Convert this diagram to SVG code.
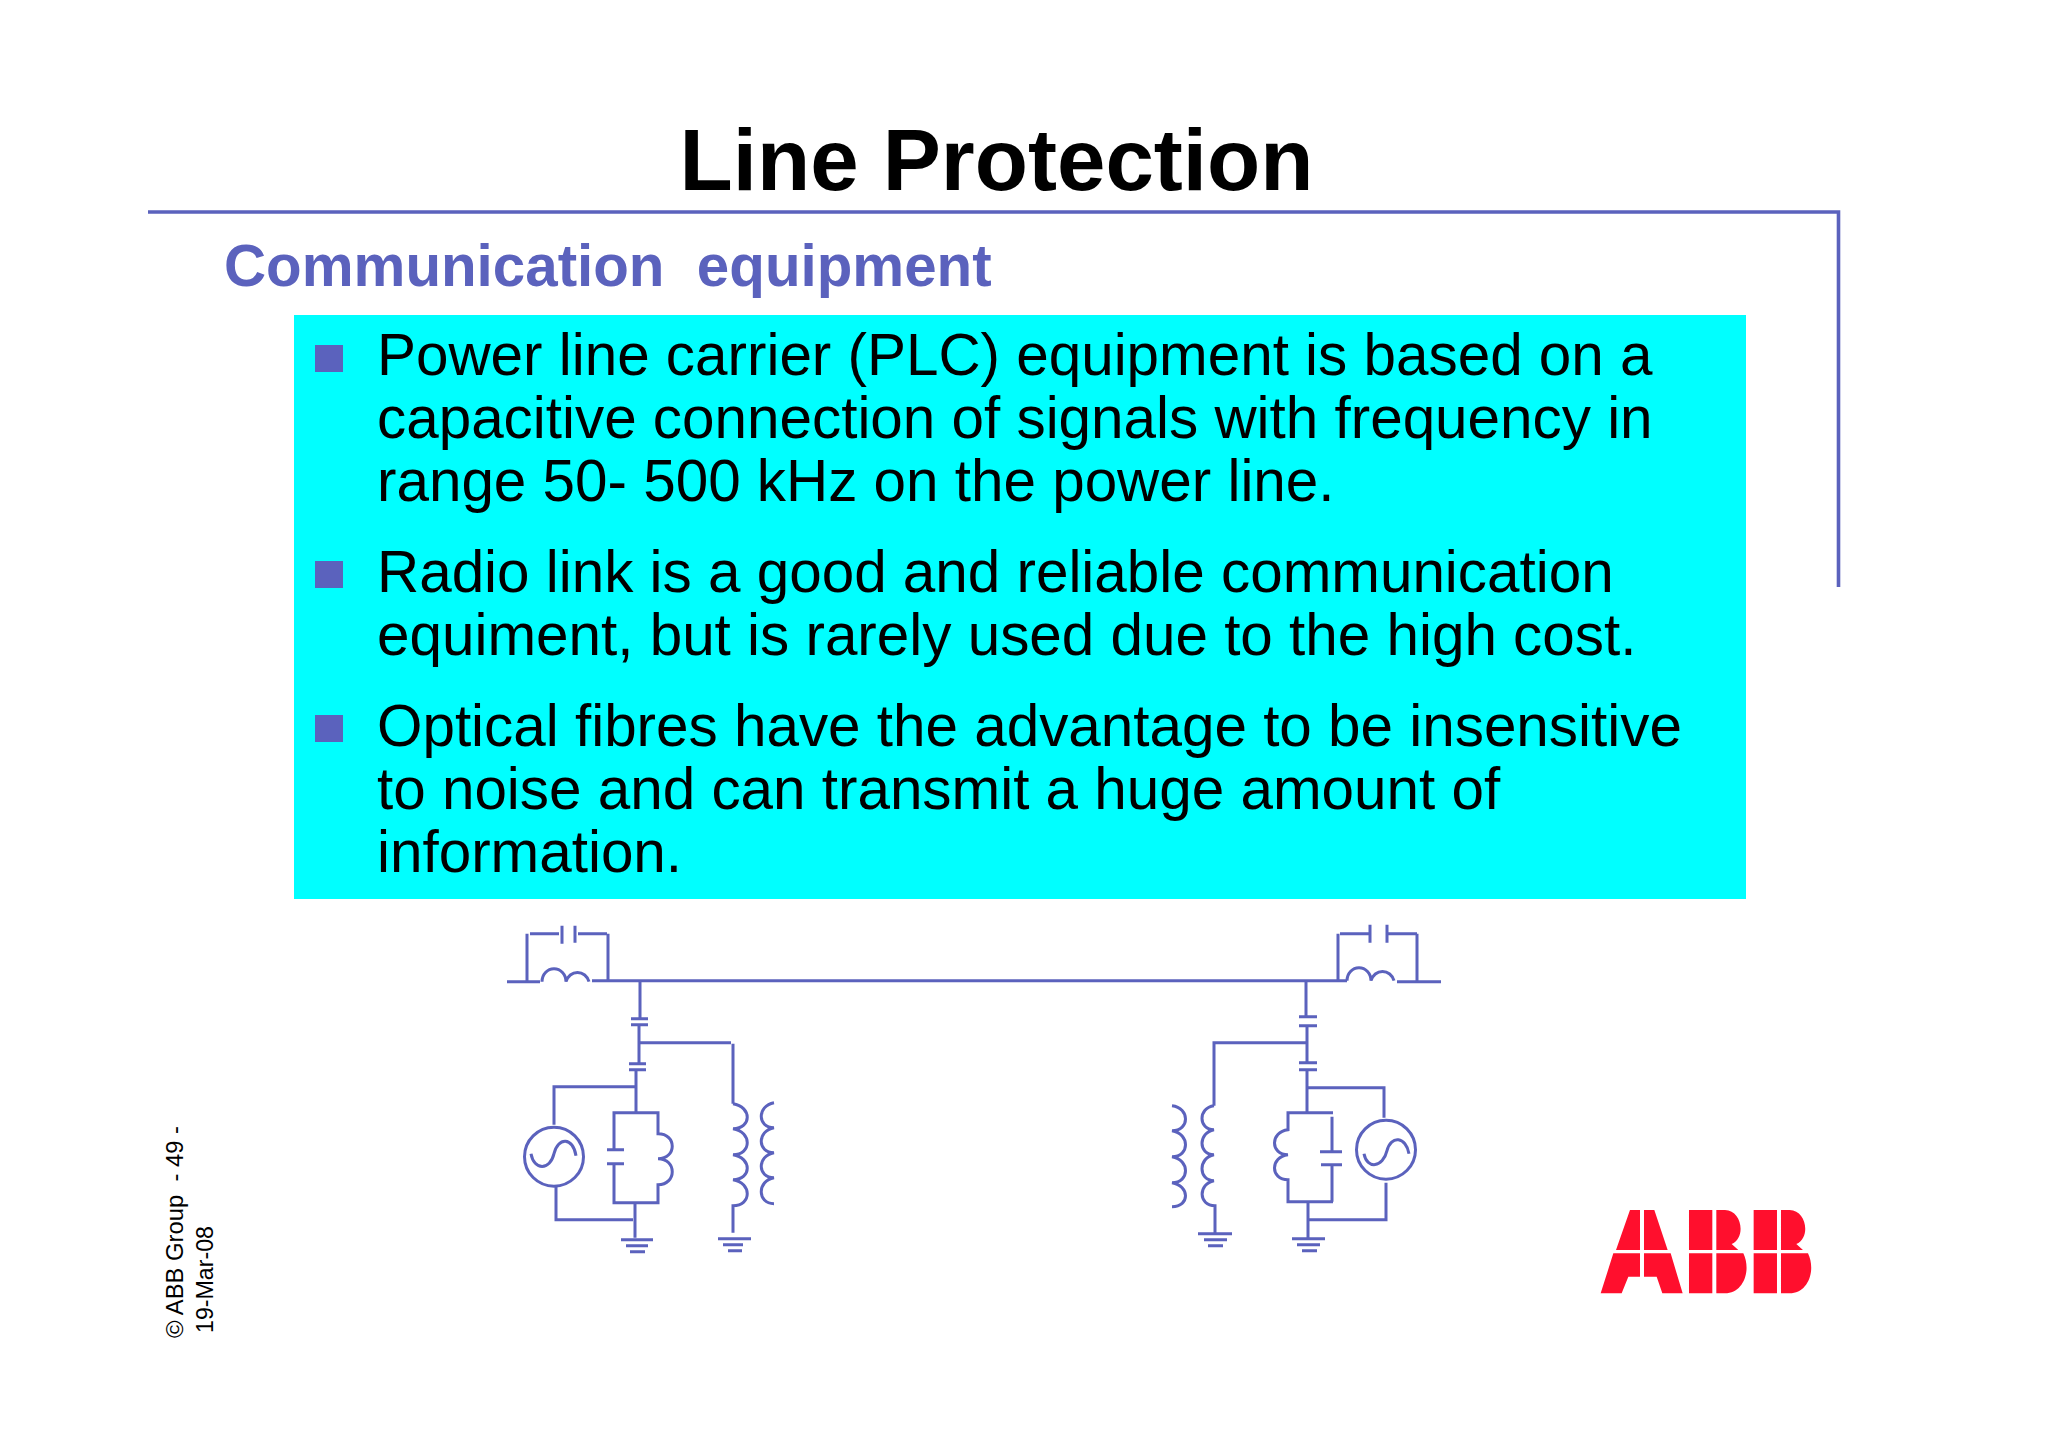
<svg xmlns="http://www.w3.org/2000/svg" width="2048" height="1447" viewBox="0 0 2048 1447">
<style>
text{font-family:"Liberation Sans",Arial,sans-serif}
.b{font-size:58.4px;fill:#000}
.w{fill:none;stroke:#5b62bd;stroke-width:3}
.s{fill:#5b62bd}
.f{font-size:23.2px;fill:#000}
</style>
<rect width="2048" height="1447" fill="#fff"/>
<g id="frame"><path d="M148 212H1838.5V587" fill="none" stroke="#5b62bd" stroke-width="3.6"/></g>
<g id="title"><text x="996.5" y="190" text-anchor="middle" font-size="87.1" font-weight="700">Line Protection</text></g>
<g id="subtitle"><text x="224" y="285.5" font-size="58.3" font-weight="700" fill="#5b62bd" xml:space="preserve">Communication  equipment</text></g>
<g id="panel"><rect x="294" y="315" width="1452" height="584" fill="#0ff"/>
<rect class="s" x="315" y="345" width="28" height="27"/>
<rect class="s" x="315" y="561" width="28" height="27"/>
<rect class="s" x="315" y="715" width="28" height="27"/>
<text class="b" x="377" y="375">Power line carrier (PLC) equipment is based on a</text>
<text class="b" x="377" y="438">capacitive connection of signals with frequency in</text>
<text class="b" x="377" y="501">range 50- 500 kHz on the power line.</text>
<text class="b" x="377" y="592">Radio link is a good and reliable communication</text>
<text class="b" x="377" y="655">equiment, but is rarely used due to the high cost.</text>
<text class="b" x="377" y="746">Optical fibres have the advantage to be insensitive</text>
<text class="b" x="377" y="809">to noise and can transmit a huge amount of</text>
<text class="b" x="377" y="872">information.</text>
</g>
<g id="connectors" class="w" transform="translate(0 .7)">
<path d="M608 980H1347"/>
<path d="M507 981H540M542 981A12 13 0 0 1 566 981A12 13 0 0 1 589 981M592 980H608M527 981V933M530 933H559M562 925V943M575 925V942M578 933H607M608 933V980"/>
<path d="M640 980V1017M631 1018H648M631 1024H648M639 1024V1062M629 1063H646M629 1069H646M636 1069V1112M639 1042H731M733 1043V1103"/>
<path d="M733 1103C752 1106 752 1128 733 1128C752 1131 752 1154 733 1154C752 1157 752 1179 733 1179C752 1182 752 1205 733 1205V1232"/>
<path d="M718 1238H751M723 1244H743M728 1250H742"/>
<path d="M774 1102C757 1105 757 1127 774 1127C757 1130 757 1152 774 1152C757 1155 757 1177 774 1177C757 1180 757 1203 774 1203"/>
<path d="M636 1086H554V1124"/>
<circle cx="554" cy="1156" r="29.5"/>
<path d="M531 1153C534 1170 550 1170 554 1153C558 1136 573 1136 576 1155"/>
<path d="M556 1185V1219H633"/>
<path d="M658 1115V1112H614V1149M607 1149H624M607 1163H624M614 1163V1202H658V1184C677 1184 677 1158 658 1158C677 1158 677 1133 658 1133V1115"/>
<path d="M635 1202V1237M621 1239H653M626 1245H648M630 1251H645"/>
<path d="M1347 980A12 13 0 0 1 1371 980A12 13 0 0 1 1394 980M1397 981H1441M1338 981V933M1340 933H1369M1370 924V942M1387 924V942M1388 933H1417M1417 933V981"/>
<path d="M1306 980V1016M1299 1016H1317M1299 1025H1317M1307 1025V1062M1299 1062H1317M1299 1069H1317M1307 1069V1112M1307 1042H1214V1105"/>
<path d="M1214 1105C1198 1107 1198 1129 1214 1129C1198 1132 1198 1154 1214 1154C1198 1157 1198 1180 1214 1180C1198 1183 1198 1205 1215 1205V1232M1198 1233H1232M1204 1239H1227M1208 1245H1223"/>
<path d="M1172 1105C1190 1107 1190 1130 1172 1130C1190 1133 1190 1156 1172 1156C1190 1159 1190 1182 1172 1182C1190 1185 1190 1206 1172 1206"/>
<path d="M1307 1087H1384V1117"/>
<circle cx="1386" cy="1149" r="29.5"/>
<path d="M1364 1153C1367 1169 1383 1167 1387 1150C1391 1134 1406 1136 1409 1153"/>
<path d="M1386 1182V1219H1308"/>
<path d="M1333 1112H1288V1129C1270 1131 1270 1154 1288 1154C1270 1156 1270 1179 1288 1179V1201H1333M1332 1116V1151M1320 1151H1342M1321 1164H1342M1332 1164V1201"/>
<path d="M1308 1201V1238M1292 1238H1325M1297 1244H1320M1302 1250H1317"/>
</g>
<g id="logo" fill="#ff0f2d" transform="translate(1600 1200.7) scale(.3333)">
<path d="M90 28H120V148H48ZM132 28H163L203 148H132ZM40 158H120V228H85L65 278H2ZM132 158H212L248 278H187L170 228H132Z"/>
<path d="M267 28H337V148H267ZM267 158H337V278H267ZM349 28H375C425 28 440 110 395 130L415 148H349ZM349 158H430C455 210 430 278 375 278H349Z"/>
<path transform="translate(194 0)" d="M267 28H337V148H267ZM267 158H337V278H267ZM349 28H375C425 28 440 110 395 130L415 148H349ZM349 158H430C455 210 430 278 375 278H349Z"/>
</g>
<g id="footer">
<text class="f" style="font-size:23.8px" transform="translate(183 1338) rotate(-90)" xml:space="preserve">© ABB Group  - 49 -</text>
<text class="f" transform="translate(213 1333) rotate(-90)">19-Mar-08</text>
</g>
</svg>
